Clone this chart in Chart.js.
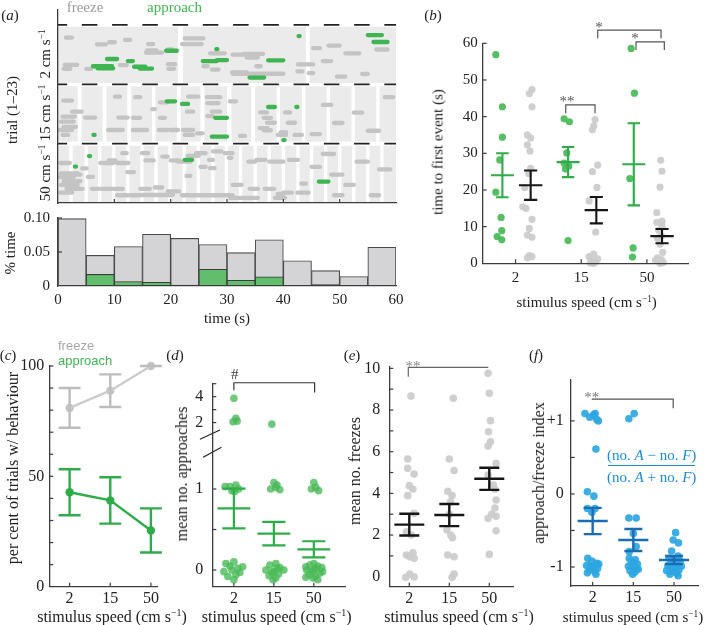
<!DOCTYPE html>
<html><head><meta charset="utf-8">
<script src="https://cdn.jsdelivr.net/npm/chart.js@4.4.1/dist/chart.umd.min.js"></script>
<style>
html,body{margin:0;padding:0;background:#fff}
body{width:706px;height:625px;position:relative;overflow:hidden}
canvas{position:absolute}
.t{position:absolute;white-space:nowrap;line-height:1;font-family:"Liberation Serif","Times New Roman",serif;color:#222}
.t sup{font-size:0.62em;vertical-align:0;position:relative;top:-0.55em}
</style></head><body>
<script>
/* ======================= DATA ======================= */
const speeds = ['2', '15', '50'];

// (a) raster events: [start (s), end (s), trial within block]
const freeze2 = [[1.4,2.5,4.9],[6.9,8.5,7.5],[9.1,10.1,6.7],[11.9,12.8,5.8],[16.0,16.9,7.4],[15.6,18.5,10.7],[15.8,17.5,9.9],[19.5,20.3,9.5],
  [1.2,3.4,15.5],[1.0,2.2,17.0],[5.0,5.9,17.0],[11.0,12.2,15.6],[19.5,20.8,15.2],[19.6,20.6,17.0],[22.5,25.8,5.2],[22.0,25.5,7.4],
  [27.0,29.6,11.0],[25.8,26.6,16.0],[27.3,28.5,17.3],[31.0,34.0,11.5],[33.0,36.4,11.2],[33.5,35.5,12.6],[30.9,33.5,18.4],[31.0,40.0,18.9],
  [35.2,36.0,16.0],[42.6,45.3,15.3],[42.5,43.4,18.0],[44.5,45.3,18.7],[45.3,46.5,9.0],
  [48.0,50.0,8.0],[47.0,48.5,14.0],[51.0,53.5,11.0],[54.0,55.0,19.0],[56.5,58.5,9.5],[49.5,51.0,20.0]];
const approach2 = [[6.2,9.6,16.0],[7.0,9.8,16.8],[8.7,10.5,13.2],[12.4,13.3,14.0],[13.5,15.5,16.2],[14.5,16.7,16.9],[19.2,21.1,10.0],
  [25.7,28.2,14.0],[28.2,30.0,13.6],[28.1,28.3,9.4],[34.0,36.6,20.4],[37.3,40.0,13.7],[42.7,42.9,4.3],[55.0,57.5,3.9],[56.0,58.5,6.6]];
const freeze15 = [[0.9,2.5,6.3],[2.5,4.2,10.6],[0.8,3.0,12.5],[0.5,2.8,14.5],[1.0,3.2,16.5],[0.2,2.5,17.7],[0.8,1.8,19.6],[4.8,6.6,12.9],
  [10.1,11.0,4.8],[8.9,11.5,17.7],[10.7,12.4,12.9],[13.7,14.6,5.0],[13.3,14.6,13.0],[13.3,15.8,17.7],[16.7,17.2,9.6],[18.1,19.5,7.0],
  [18.1,19.0,13.0],[17.9,19.5,17.7],[19.9,21.3,17.7],[23.1,24.9,4.8],[22.9,24.0,10.6],[22.2,24.0,17.7],[22.5,24.0,19.6],[24.7,25.7,19.0],
  [26.4,28.8,5.0],[26.5,28.5,7.3],[27.3,28.8,10.6],[26.5,27.5,12.3],[30.5,31.6,6.6],[32.3,33.2,20.0],[35.9,37.1,10.9],[36.5,37.8,13.0],
  [37.1,38.5,14.9],[35.8,37.2,17.0],[36.5,37.8,17.8],[40.3,41.2,10.9],[40.8,42.1,14.9],[39.5,40.5,18.6],[39.0,40.5,19.6],[42.0,43.3,19.6],
  [45.0,46.5,19.3],[47.0,48.5,8.0],[49.0,50.5,15.0],[52.5,54.0,11.0],[55.0,57.0,18.0],[58.0,59.5,5.0]];
const approach15 = [[19.3,20.8,6.6],[22.0,23.1,7.6],[27.9,30.0,13.0],[27.3,30.0,20.3],[37.3,38.5,8.8],[42.3,42.5,8.8],[40.0,40.2,21.6],[6.3,6.5,19.6]];
const freeze50 = [[0.4,2.1,7.5],[0.5,3.5,11.5],[0.3,2.8,13.0],[1.0,4.0,14.5],[0.5,3.5,16.0],[1.5,4.4,17.5],[0.4,2.5,19.0],[2.5,4.0,12.0],
  [4.3,5.1,9.6],[5.3,6.2,12.9],[6.0,7.5,17.5],[7.8,9.6,17.5],[7.5,9.8,7.5],[9.0,10.2,6.5],[11.4,12.2,3.7],[10.5,12.5,7.5],[12.3,13.5,11.0],
  [10.5,14.6,20.0],[9.8,11.5,17.5],[14.9,16.0,3.7],[15.5,17.0,6.5],[14.6,16.3,17.5],[17.2,18.5,17.0],[14.6,20.4,19.9],[18.5,19.5,5.0],
  [20.0,21.5,6.5],[21.3,23.5,7.0],[19.5,21.5,18.5],[22.8,23.5,12.5],[23.0,25.0,4.7],[24.5,26.2,3.7],[25.3,26.2,9.0],[22.0,31.0,20.0],
  [27.5,29.0,3.0],[26.8,27.5,6.3],[27.0,27.8,9.5],[29.6,31.0,3.7],[30.3,30.8,5.5],[33.8,35.0,7.0],[31.0,32.6,16.0],[34.0,35.5,17.5],
  [36.7,38.4,17.5],[35.2,36.8,6.3],[37.5,40.0,7.0],[30.5,35.5,21.0],[38.5,40.3,21.0],[39.0,40.0,19.5],[40.0,41.5,19.0],[41.0,42.6,6.3],
  [43.2,44.0,15.5],[42.5,44.5,19.0],[45.0,46.5,9.0],[47.0,49.0,4.0],[48.5,50.5,12.0],[51.0,52.5,16.0],[53.0,55.0,7.0],[55.5,57.0,20.0],
  [57.0,59.0,10.0],[49.0,50.5,20.0]];
const approach50 = [[3.0,3.2,8.9],[5.5,5.7,4.8],[22.5,23.8,6.3],[46.3,48.0,14.7]];
// (a) light-grey trial windows: white gaps (s) in each block
const gaps2 = [[21.3,22.2],[44.0,44.7]];
const gaps15 = [[3.5,4.2],[7.9,8.6],[12.3,13.0],[16.7,17.3],[21.1,21.8],[25.3,26.0],[30.0,30.8],[34.3,35.0],[38.8,39.4],[43.3,43.9],[47.7,48.3],[52.1,52.7],[56.5,57.1]];
const gaps50 = [[2.0,2.6],[4.7,5.3],[7.1,7.7],[9.6,10.2],[12.1,12.7],[14.6,15.2],[17.1,17.7],[19.6,20.2],[22.1,22.7],[24.6,25.2],[27.2,27.8],[29.6,30.2],
  [32.1,32.7],[34.7,35.3],[37.2,37.8],[39.7,40.3],[42.3,42.9],[44.7,45.3],[47.2,47.8],[49.7,50.3],[52.2,52.8],[54.7,55.3],[57.2,57.8]];

// (a) histogram
const timeTicks = [0, 10, 20, 30, 40, 50, 60];
const histCentres = [2.5,7.5,12.5,17.5,22.5,27.5,32.5,37.5,42.5,47.5,52.5,57.5];
const histFreeze = [0.099,0.045,0.058,0.076,0.070,0.061,0.049,0.068,0.037,0.0225,0.014,0.057];
const histApproach = [null,0.017,0.0065,0.0055,0.0015,0.0245,0.0085,0.0135,null,0.002,null,0.001];

// (b) time to first event: [value, jitter]
const bApproach2 = [[56.9,-0.30],[42.7,-0.20],[34.4,-0.20],[28.2,-0.24],[19.4,-0.30],[12.5,-0.22],[8.9,-0.21],[7.3,-0.28],[6.4,-0.21]];
const bApproach15 = [[39.4,-0.26],[38.6,-0.18],[30.1,-0.22],[27.3,-0.26],[25.7,-0.24],[26.5,-0.19],[6.2,-0.20]];
const bApproach50 = [[58.6,-0.24],[46.4,-0.19],[23.1,-0.26],[4.2,-0.21],[1.7,-0.22]];
const bFreeze2 = [[47.4,0.25],[46.3,0.21],[42.7,0.25],[35.0,0.18],[34.2,0.23],[32.3,0.18],[30.6,0.22],[25.9,0.23],[24.5,0.20],[20.6,0.14],
  [15.4,0.11],[15.0,0.16],[12.0,0.25],[9.5,0.21],[7.7,0.18],[7.1,0.25],[2.1,0.21],[1.8,0.25],[1.5,0.18]];
const bFreeze15 = [[39.2,0.21],[37.5,0.19],[36.4,0.17],[26.8,0.25],[25.0,0.17],[20.7,0.24],[17.0,0.12],[8.5,0.22],[2.5,0.19],[1.8,0.12],
  [1.2,0.25],[0.8,0.16],[0.4,0.22],[0.1,0.14],[0.0,0.19]];
const bFreeze50 = [[28.1,0.21],[25.1,0.23],[20.8,0.20],[13.8,0.15],[11.5,0.23],[11.2,0.15],[10.1,0.23],[9.0,0.18],[7.5,0.22],[6.8,0.16],
  [5.2,0.20],[3.0,0.24],[1.5,0.16],[1.0,0.22],[0.5,0.18],[0.2,0.25],[0.0,0.20],[0.8,0.13]];
const bApproachMean = [24.0, 27.6, 27.0], bApproachSE = [6.0, 4.1, 11.2];
const bFreezeMean = [21.3, 14.5, 7.4], bFreezeSE = [4.0, 3.6, 1.95];

// (c) per cent of trials with behaviour
const cFreezeMean = [81, 88.8, 100], cFreezeSE = [9, 7.4, 0];
const cApproachMean = [42.8, 39.1, 25.5], cApproachSE = [10.4, 10.5, 10];

// (d) mean number of approaches: [value, jitter]
const dPts2 = [[3.87,0.0],[2.33,0.05],[2.07,-0.02],[2.11,0.08],[1.03,-0.22],[1.03,-0.1],[1.05,0.05],[1.0,0.12],[0.97,0.02],[0.98,-0.05],
  [0.08,-0.2],[0.05,-0.1],[0.1,0.0],[0.02,0.1],[-0.02,-0.25],[-0.03,0.15],[0.0,-0.05],[-0.06,0.05],[-0.08,-0.15],[-0.12,0.0],[0.04,0.22]];
const dPts15 = [[1.88,-0.05],[1.08,0.0],[1.05,0.08],[1.0,-0.08],[0.99,0.15],[1.02,0.05],[0.06,-0.1],[0.08,0.05],[0.03,0.15],[0.0,-0.2],
  [-0.02,0.0],[-0.05,0.12],[-0.07,-0.12],[-0.1,0.05],[0.0,0.25],[-0.03,-0.05],[0.02,0.08],[-0.12,-0.02]];
const dPts50 = [[1.08,0.0],[1.02,0.05],[1.0,-0.06],[0.98,0.12],[0.08,0.0],[0.05,0.1],[0.06,-0.1],[0.03,0.2],[0.0,-0.18],[0.02,0.05],
  [-0.02,-0.05],[-0.04,0.15],[-0.06,-0.12],[-0.08,0.05],[-0.1,-0.02],[-0.12,0.1],[0.0,0.0],[0.04,-0.2],[-0.02,0.22],[-0.09,-0.2]];
const dMean = [0.76, 0.45, 0.255], dSE = [0.245, 0.145, 0.10];

// (e) mean number of freezes
const ePts2 = [[8.67,0.04],[5.65,-0.04],[5.2,-0.04],[4.93,0.12],[4.37,0.0],[4.21,0.09],[3.89,-0.04],[3.04,0.12],[2.16,-0.07],[2.0,0.05],
  [1.15,0.09],[1.04,-0.07],[0.96,0.01],[0.88,0.12],[0.13,0.01],[-0.03,-0.09],[-0.01,0.12]];
const ePts15 = [[8.56,0.1],[5.65,0.0],[5.1,0.12],[4.1,-0.04],[3.9,0.07],[3.6,0.03],[3.0,0.0],[2.24,-0.06],[2.0,0.04],[1.87,0.08],
  [1.04,-0.04],[0.96,0.12],[0.13,0.12],[-0.03,0.07]];
const ePts50 = [[9.76,-0.03],[8.8,0.0],[7.49,0.03],[6.96,-0.02],[6.48,0.03],[6.27,-0.03],[5.44,0.17],[4.88,-0.03],[4.4,0.1],[4.2,0.14],
  [3.68,0.17],[3.3,0.14],[3.0,0.06],[2.9,0.17],[2.8,-0.03],[2.2,0.17],[1.07,0.0]];
const eMean = [2.5, 2.96, 4.7], eSE = [0.52, 0.53, 0.53];

// (f) approach/freeze index
const fPts2 = [[1.1,-0.19],[1.05,-0.07],[1.1,0.06],[1.02,0.1],[1.0,0.14],[1.08,0.02],[0.616,0.08],[0.03,-0.13],[-0.03,0.03],[-0.2,-0.13],
  [-0.2,0.06],[-0.25,-0.02],[-0.88,-0.12],[-0.92,-0.02],[-0.95,0.1],[-0.98,-0.15],[-1.0,0.0],[-1.02,0.12],[-1.04,-0.08],[-1.06,0.05],
  [-1.08,-0.13],[-1.1,0.08],[-1.0,-0.05],[-0.96,0.15]];
const fPts15 = [[1.03,-0.11],[1.1,0.02],[-0.33,-0.11],[-0.33,0.07],[-0.54,0.0],[-0.72,0.07],[-0.79,-0.1],[-0.88,-0.1],[-0.9,0.05],
  [-0.93,-0.05],[-0.96,0.1],[-0.99,-0.12],[-1.0,0.0],[-1.02,0.08],[-1.05,-0.08],[-1.07,0.04],[-1.1,-0.02],[-0.95,0.02],[-1.03,0.12]];
const fPts50 = [[-0.53,0.04],[-0.63,-0.02],[-0.67,0.11],[-0.78,-0.06],[-0.85,0.1],[-0.88,-0.12],[-0.9,0.0],[-0.92,0.15],[-0.94,-0.05],
  [-0.96,0.08],[-0.98,-0.15],[-1.0,0.02],[-1.02,-0.08],[-1.04,0.12],[-1.06,-0.02],[-1.08,0.06],[-1.1,-0.1],[-1.12,0.1],[-0.99,0.18],[-1.05,-0.18]];
const fMean = [-0.37, -0.63, -0.905], fSE = [0.18, 0.15, 0.055];

// significance brackets (data units)
const bBrackets = [[[1.764,40.9],[1.764,43.2],[2.21,43.2],[2.21,40.9]], [[2.251,61.4],[2.251,63.6],[3.215,63.6],[3.215,61.4]], [[2.834,58.2],[2.834,60.4],[3.265,60.4],[3.265,58.2]]];
const dBracket = [[[1.0,2.22],[1.0,2.312],[3.02,2.312],[3.02,2.19]]];
const dBreak = [[[0.15,1.614],[0.65,1.728]], [[0.23,1.391],[0.69,1.515]]];
const eBracket = [[[0.975,9.6],[0.975,10.05],[2.975,10.05]]];
const fBracket = [[[0.975,1.297],[2.98,1.297],[2.98,1.174]]];

/* ======================= HELPERS ======================= */
const SERIF = '"Liberation Serif","Times New Roman",serif';
const SANS = '"Liberation Sans",Arial,sans-serif';
Chart.defaults.font.family = SERIF; Chart.defaults.font.size = 15; Chart.defaults.color = '#222';
Chart.defaults.animation = false; Chart.defaults.events = [];
Chart.defaults.plugins.legend.display = false; Chart.defaults.plugins.tooltip.enabled = false;
const AX = '#3c3c3c';
const GREEN = '#3fb552', GREEN_PT = 'rgba(72,184,86,0.92)', GREEN_BAR = '#2eac48';
const GREY_PT = 'rgba(204,204,204,0.95)', BLACK = '#161616';
const BLUE_PT = 'rgba(44,166,226,0.92)', BLUE = '#1a6db2';

function txt(html, cx, cy, o = {}) {
  const d = document.createElement('div'); d.className = 't'; d.innerHTML = html;
  d.style.left = cx + 'px'; d.style.top = cy + 'px'; d.style.fontSize = (o.size || 15) + 'px';
  if (o.color) d.style.color = o.color; if (o.italic) d.style.fontStyle = 'italic'; if (o.family) d.style.fontFamily = o.family;
  const ax = o.align === 'left' ? '0' : '-50%';
  d.style.transform = `translate(${ax},-50%)` + (o.rot ? ` rotate(${o.rot}deg)` : '');
  document.body.appendChild(d);
}
function axis(min, max, ticks, labels, pad, size, extra = {}) {
  return Object.assign({ type: 'linear', min, max, offset: false,
    grid: { display: false, drawTicks: false }, border: { display: true, color: AX, width: 1.3, z: 1 },
    afterBuildTicks: s => { s.ticks = ticks.map(v => ({ value: v })); },
    ticks: { display: !!labels, padding: pad, autoSkip: false, maxRotation: 0, minRotation: 0, font: { size }, color: '#222',
      callback: v => labels ? labels(v) : '' } }, extra);
}
function mk(box, area, type, datasets, sx, sy, plugins = []) {
  const [bx, by, bw, bh] = box;
  const c = document.createElement('canvas'); c.width = bw; c.height = bh;
  c.style.left = bx + 'px'; c.style.top = by + 'px'; c.style.width = bw + 'px'; c.style.height = bh + 'px';
  document.body.appendChild(c);
  sx.afterFit = s => { s.height = by + bh - area[3]; s.paddingLeft = 0; s.paddingRight = 0; };
  sy.afterFit = s => { s.width = area[0] - bx; s.paddingTop = 0; s.paddingBottom = 0; };
  return new Chart(c, { type, data: { datasets }, plugins,
    options: { responsive: false, devicePixelRatio: 1,
      layout: { padding: { left: 0, top: area[1] - by, right: bx + bw - area[2], bottom: 0 } },
      scales: { x: sx, y: sy } } });
}
function deco({ xt = [], yt = [], len = 4, texts = [], before = null }) {
  return { id: 'deco',
    beforeDatasetsDraw(ch) { if (before) before(ch); },
    afterDatasetsDraw(ch) {
      const { ctx, chartArea: a, scales: { x, y } } = ch; ctx.save(); ctx.strokeStyle = AX; ctx.lineWidth = 1.2;
      yt.forEach(v => { const p = y.getPixelForValue(v); ctx.beginPath(); ctx.moveTo(a.left, p); ctx.lineTo(a.left + len, p); ctx.stroke(); });
      xt.forEach(v => { const p = x.getPixelForValue(v); ctx.beginPath(); ctx.moveTo(p, a.bottom); ctx.lineTo(p, a.bottom - len); ctx.stroke(); });
      texts.forEach(t => { ctx.fillStyle = t.color || '#555'; ctx.font = `${t.size || 15}px ${SERIF}`; ctx.textAlign = 'center';
        ctx.textBaseline = 'alphabetic'; ctx.fillText(t.s, x.getPixelForValue(t.x), y.getPixelForValue(t.y)); });
      ctx.restore(); } };
}
function lines(polys, color, w, extra = {}) {
  const data = [];
  polys.forEach(p => { p.forEach(([x, y]) => data.push({ x, y })); data.push({ x: p[p.length - 1][0], y: null }); });
  return Object.assign({ type: 'scatter', data, showLine: true, borderColor: color, borderWidth: w, borderCapStyle: 'butt',
    borderJoinStyle: 'miter', pointRadius: 0, spanGaps: false, clip: false, tension: 0 }, extra);
}
function errbars(xs, m, se, hwMean, hwCap) {
  const p = [];
  xs.forEach((x, i) => { const lo = m[i] - se[i], hi = m[i] + se[i];
    p.push([[x, lo], [x, hi]], [[x - hwCap, hi], [x + hwCap, hi]], [[x - hwCap, lo], [x + hwCap, lo]]);
    if (hwMean) p.push([[x - hwMean, m[i]], [x + hwMean, m[i]]]); });
  return p;
}
function dots(pairs, cx, color, r, tf = v => v) {
  return { type: 'scatter', data: pairs.map(([v, j]) => ({ x: cx + j, y: tf(v) })), pointBackgroundColor: color, backgroundColor: color,
    pointBorderWidth: 0, borderWidth: 0, pointRadius: r, showLine: false, clip: false };
}
function meanDots(xs, m, color, r) {
  return { type: 'scatter', data: xs.map((x, i) => ({ x, y: m[i] })), pointBackgroundColor: color, backgroundColor: color,
    pointBorderWidth: 0, borderWidth: 0, pointRadius: r, showLine: false, clip: false };
}
function raster(list, off) {
  return list.map(([s0, s1, t]) => [[s0, t + off], [s1, t + off]]);
}
const catLabel = v => speeds[Math.round(v) - 1] || '';
const sup1 = 's<sup>−1</sup>';
const speedTitle = `stimulus speed (cm ${sup1})`;

/* ======================= (a) raster ======================= */
const blocks = [[0.8, 22.5], [23.8, 45.2], [46.8, 69]];
const blockGaps = [gaps2, gaps15, gaps50];
mk([0, 0, 400, 210], [58, 10, 396, 203], 'scatter', [
    lines([[[0, 0], [60, 0]], [[0, 23], [60, 23]], [[0, 46], [60, 46]]], '#222', 1.8, { borderDash: [15.5, 14.75], borderDashOffset: 6.4 }),
    lines(raster(approach2, 0).concat(raster(approach15, 23), raster(approach50, 46)), GREEN, 4.3, { borderCapStyle: 'round', clip: 3 }),
    lines(raster(freeze2, 0).concat(raster(freeze15, 23), raster(freeze50, 46)), '#c4c4c4', 4.3, { borderCapStyle: 'round', clip: 3 })
  ],
  axis(0, 60, timeTicks, null, 0, 15),
  axis(-5.8, 69, [], null, 0, 15, { reverse: true }),
  [deco({ xt: [10, 20, 30, 40, 50], len: 4, before: ch => {
    const { ctx, scales: { x, y } } = ch; ctx.save();
    blocks.forEach(([a, b], k) => { const y0 = y.getPixelForValue(a), y1 = y.getPixelForValue(b);
      const xl = x.getPixelForValue(0), xr = x.getPixelForValue(60);
      ctx.fillStyle = '#ebebeb'; ctx.fillRect(xl, y0, xr - xl, y1 - y0); ctx.fillStyle = '#fff';
      blockGaps[k].forEach(([g0, g1]) => { const x0 = x.getPixelForValue(g0); ctx.fillRect(x0, y0, x.getPixelForValue(g1) - x0, y1 - y0); }); });
    ctx.restore(); } })]);

/* ======================= (a) histogram ======================= */
mk([0, 210, 412, 120], [58, 218, 396, 286], 'bar', [
    { type: 'bar', data: histCentres.map((c, i) => ({ x: c, y: histApproach[i] })), backgroundColor: '#61be6c', borderColor: '#3d3d3d',
      borderWidth: 1.1, borderSkipped: false, barPercentage: 1, categoryPercentage: 1, grouped: false },
    { type: 'bar', data: histCentres.map((c, i) => ({ x: c, y: histFreeze[i] })), backgroundColor: '#d4d4d6', borderColor: '#4a4a4a',
      borderWidth: 1.1, borderSkipped: false, barPercentage: 1, categoryPercentage: 1, grouped: false }
  ],
  axis(0, 60, timeTicks, v => String(v), 5, 15),
  axis(0, 0.1, [0, 0.05, 0.1], v => ({ 0: '0', 5: '0.05', 10: '0.10' })[Math.round(v * 100)], 8, 15),
  [deco({ yt: [0.05, 0.1], len: 4 })]);

/* ======================= (b) ======================= */
const bx = [1, 2, 3];
mk([400, 0, 306, 330], [482.7, 43.3, 688.3, 263.3], 'scatter', [
    lines(bBrackets, '#555', 1.2),
    lines(errbars(bx.map(x => x - 0.2), bApproachMean, bApproachSE, 0.175, 0.095), GREEN_BAR, 2.1),
    lines(errbars(bx.map(x => x + 0.23), bFreezeMean, bFreezeSE, 0.178, 0.1), BLACK, 2.1),
    dots(bApproach2, 1, GREEN_PT, 3.6), dots(bApproach15, 2, GREEN_PT, 3.6), dots(bApproach50, 3, GREEN_PT, 3.6),
    dots(bFreeze2, 1, GREY_PT, 3.6), dots(bFreeze15, 2, GREY_PT, 3.6), dots(bFreeze50, 3, GREY_PT, 3.6)
  ],
  axis(0.5, 3.63, [1, 2, 3], catLabel, 6, 15),
  axis(0, 60, [0, 10, 20, 30, 40, 50, 60], v => String(v), 5, 15),
  [deco({ xt: [1, 2, 3], yt: [10, 20, 30, 40, 50, 60], len: 4,
    texts: [{ s: '**', x: 1.785, y: 42.9 }, { s: '*', x: 2.27, y: 63.1 }, { s: '*', x: 2.82, y: 60.1 }] })]);

/* ======================= (c) ======================= */
mk([0, 340, 180, 290], [49.3, 366, 157, 586.7], 'scatter', [
    lines(errbars(bx, cApproachMean, cApproachSE, 0, 0.27), GREEN_BAR, 2.4),
    lines([bx.map((x, i) => [x, cApproachMean[i]])], GREEN_BAR, 2.4),
    meanDots(bx, cApproachMean, '#2fae4a', 4.2),
    lines(errbars(bx, cFreezeMean, cFreezeSE, 0, 0.27), '#bdbdbd', 2.4),
    lines([bx.map((x, i) => [x, cFreezeMean[i]])], '#cccccc', 2.4),
    meanDots(bx, cFreezeMean, '#c4c4c4', 4.2)
  ],
  axis(0.5, 3.15, [1, 2, 3], catLabel, 2, 16),
  axis(0, 100, [0, 50, 100], v => String(v), 5, 16),
  [deco({ xt: [1, 2, 3], yt: [10, 20, 30, 40, 50, 60, 70, 80, 90, 100], len: 4 })]);

/* ======================= (d) ======================= */
const dY = v => v <= 1.5 ? v : 1.82 + (v - 2) * 0.16;
const dTickVals = [0, 0.5, 1, 2, 3, 4, 5];
mk([170, 340, 190, 290], [212.3, 383.3, 345, 586.7], 'scatter', [
    lines(dBracket, '#333', 1.2),
    lines(dBreak, '#222', 1.2),
    lines(errbars(bx, dMean, dSE, 0.41, 0.29), GREEN_BAR, 2.2),
    dots(dPts2, 1, 'rgba(72,184,86,0.78)', 3.8, dY), dots(dPts15, 2, 'rgba(72,184,86,0.78)', 3.8, dY), dots(dPts50, 3, 'rgba(72,184,86,0.78)', 3.8, dY)
  ],
  axis(0.46, 3.78, [1, 2, 3], catLabel, 2, 16),
  axis(-0.206, 2.305, dTickVals.map(dY), v => ({ 0: '0', 100: '1', 182: '2', 214: '4' })[Math.round(v * 100)] || '', 9, 16),
  [deco({ xt: [1, 2, 3], yt: dTickVals.map(dY), len: 4, texts: [{ s: '#', x: 1.02, y: 2.364, color: '#333' }] })]);

/* ======================= (e) ======================= */
mk([340, 340, 190, 290], [389.3, 366.7, 513.3, 586.7], 'scatter', [
    lines(eBracket, '#666', 1.2),
    lines(errbars(bx, eMean, eSE, 0.375, 0.25), BLACK, 2.4),
    dots(ePts2, 1, GREY_PT, 3.8), dots(ePts15, 2, GREY_PT, 3.8), dots(ePts50, 3, GREY_PT, 3.8)
  ],
  axis(0.5, 3.6, [1, 2, 3], catLabel, 2, 16),
  axis(-0.48, 10.08, [0, 2, 4, 6, 8, 10], v => String(v), 9, 16),
  [deco({ xt: [1, 2, 3], yt: [1, 2, 3, 4, 5, 6, 7, 8, 9, 10], len: 4, texts: [{ s: '**', x: 1.09, y: 9.89, color: '#888' }] })]);

/* ======================= (f) ======================= */
mk([525, 340, 181, 290], [570.7, 380, 698, 586], 'scatter', [
    lines(fBracket, '#555', 1.2),
    lines(errbars(bx, fMean, fSE, 0.37, 0.22), BLUE, 2.4),
    dots(fPts2, 1, BLUE_PT, 3.8), dots(fPts15, 2, BLUE_PT, 3.8), dots(fPts50, 3, BLUE_PT, 3.8)
  ],
  axis(0.46, 3.59, [1, 2, 3], catLabel, 2, 16),
  axis(-1.26, 1.56, [-1, 0, 1], v => ({ '-1': '-1', 0: '0', 1: '+1' })[Math.round(v)], 7, 16),
  [deco({ xt: [1, 2, 3], yt: [-1, -0.5, 0, 0.5, 1], len: 4, texts: [{ s: '**', x: 0.98, y: 1.256, color: '#777' }] })]);

/* ======================= TEXT ======================= */
txt('(<i>a</i>)', 10, 15, { size: 15 });
txt('freeze', 85, 7, { color: '#9a9a9a' });
txt('approach', 174.5, 7, { color: '#3fb552' });
txt('trial (1–23)', 12, 110, { rot: -90 });
txt(`2 cm ${sup1}`, 45, 54, { rot: -90 });
txt(`15 cm ${sup1}`, 45, 112.5, { rot: -90 });
txt(`50 cm ${sup1}`, 45, 173, { rot: -90 });
txt('% time', 10, 253, { rot: -90 });
txt('time (s)', 227, 317.7);
txt('(<i>b</i>)', 433, 15);
txt('time to first event (s)', 438, 152, { rot: -90 });
txt(speedTitle, 586.7, 301.7);
txt('(<i>c</i>)', 8, 355);
txt('freeze', 58, 345, { align: 'left', family: SANS, size: 13, color: '#a8a8a8' });
txt('approach', 58, 360, { align: 'left', family: SANS, size: 13, color: '#3fb552' });
txt('per cent of trials w/ behaviour', 13.3, 468, { rot: -90, size: 16 });
txt(speedTitle, 112, 616.7, { size: 16 });
txt('(<i>d</i>)', 175, 355);
txt('mean no. approaches', 182, 473.7, { rot: -90, size: 16 });
txt(speedTitle, 276.7, 616.7, { size: 16 });
txt('(<i>e</i>)', 352, 355);
txt('mean no. freezes', 355, 471, { rot: -90, size: 16 });
txt(speedTitle, 459, 616.7, { size: 16 });
txt('(<i>f</i>)', 536, 355);
txt('approach/freeze index', 539.3, 473, { rot: -90, size: 16 });
txt(speedTitle, 633, 616.7, { size: 15 });
txt('(no. <i>A</i> − no. <i>F</i>)', 651.7, 455, { color: '#1e8ad6' });
txt('(no. <i>A</i> + no. <i>F</i>)', 651.7, 477, { color: '#1e8ad6' });
(() => { const d = document.createElement('div'); d.style.cssText = 'position:absolute;left:608px;top:465px;width:87px;height:0;border-top:1.4px solid #1e8ad6'; document.body.appendChild(d); })();
</script>
</body></html>
